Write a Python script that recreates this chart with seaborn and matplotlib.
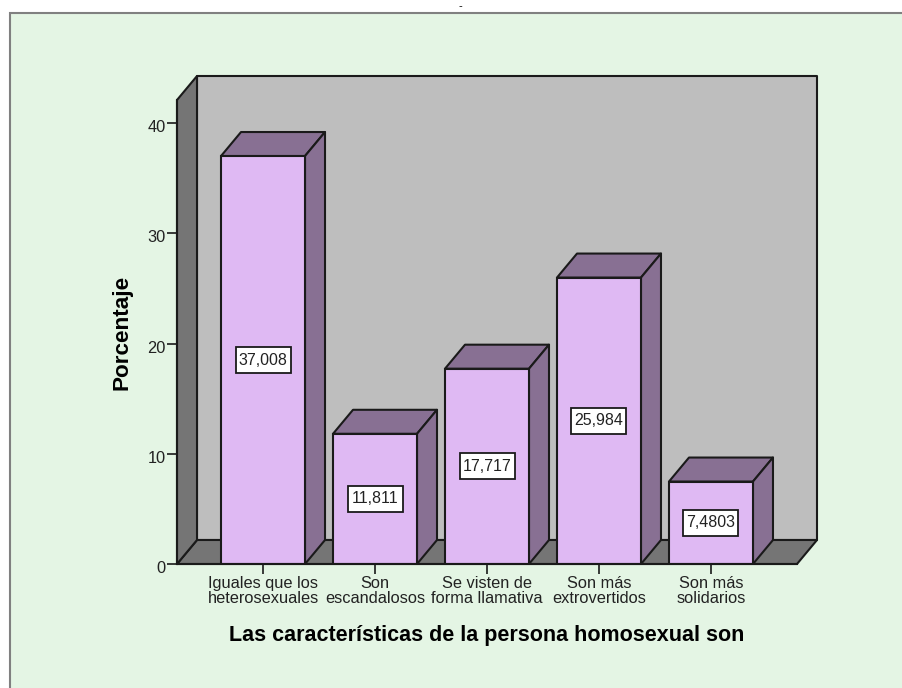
import matplotlib
matplotlib.use("Agg")
import matplotlib.pyplot as plt
import matplotlib.transforms as mtrans
import seaborn as sns
import pandas as pd
from matplotlib.patches import Polygon, Rectangle

categories = ["Iguales que los\nheterosexuales", "Son\nescandalosos", "Se visten de\nforma llamativa",
              "Son más\nextrovertidos", "Son más\nsolidarios"]
values = [37.008, 11.811, 17.717, 25.984, 7.4803]
value_labels = ["37,008", "11,811", "17,717", "25,984", "7,4803"]
y_ticks = [0, 10, 20, 30, 40]
x_title = "Las características de la persona homosexual son"
y_title = "Porcentaje"

W, H = 902, 688
FRONT = "#DFB9F3"
SIDE = "#887093"
WALL = "#BEBEBE"
FLOOR = "#757575"
BG = "#E4F5E4"
INK = "#1A1A1A"
TXT = "#222222"
LW = 1.5

sns.set_theme(style="white")
plt.rcParams["font.family"] = ["Liberation Sans", "DejaVu Sans"]

fig = plt.figure(figsize=(W / 100, H / 100), dpi=100, facecolor="white")
fig.add_artist(Rectangle((10 / W, -0.01), 1, 1 - 13 / H + 0.01, transform=fig.transFigure,
                         facecolor=BG, edgecolor="#808080", linewidth=1.5, zorder=-5))
fig.text(460 / W, 1 - 6 / H, "-", ha="center", va="center", fontsize=8, color="black")

ax = fig.add_axes([177 / W, 1 - 564 / H, 620 / W, 464 / H])
ax.patch.set_alpha(0)

df = pd.DataFrame({"cat": categories, "val": values})
sns.barplot(data=df, x="cat", y="val", color=FRONT, saturation=1, width=0.75,
            edgecolor=INK, linewidth=LW, ax=ax, zorder=3)

xmin, xmax = -0.768, 4.768
ymin, ymax = 0, 42.09
ax.set_xlim(xmin, xmax)
ax.set_ylim(ymin, ymax)

# pixel-to-data conversion factors for the pseudo-3D depth and the label boxes
ux = (xmax - xmin) / 620
uy = (ymax - ymin) / 464
dx = 20 * ux
dy = 24 * uy


def face(points, color, z):
    ax.add_patch(Polygon(points, closed=True, facecolor=color, edgecolor=INK, linewidth=LW,
                         clip_on=False, zorder=z, joinstyle="round"))


bars = [p for p in ax.patches if isinstance(p, Rectangle)]

face([(xmin + dx, dy), (xmax + dx, dy), (xmax + dx, ymax + dy), (xmin + dx, ymax + dy)], WALL, 0.5)
face([(xmin, 0), (xmax, 0), (xmax + dx, dy), (xmin + dx, dy)], FLOOR, 0.6)
face([(xmin, 0), (xmin + dx, dy), (xmin + dx, ymax + dy), (xmin, ymax)], FLOOR, 0.6)

for bar, lab in zip(bars, value_labels):
    x0, x1, h = bar.get_x(), bar.get_x() + bar.get_width(), bar.get_height()
    face([(x0, h), (x1, h), (x1 + dx, h + dy), (x0 + dx, h + dy)], SIDE, 2)
    face([(x1, 0), (x1 + dx, dy), (x1 + dx, h + dy), (x1, h)], SIDE, 2)
    xc = (x0 + x1) / 2
    yc = h / 2
    bw, bh = 55 * ux, 26 * uy
    ax.add_patch(Rectangle((xc - bw / 2, yc - bh / 2), bw, bh, facecolor="white", edgecolor=INK,
                           linewidth=1.3, zorder=4.5))
    ax.text(xc, yc, lab, ha="center", va="center", fontsize=11.5, color=TXT, zorder=5)

sns.despine(ax=ax, top=True, right=True)
for s in ("left", "bottom"):
    ax.spines[s].set_color(INK)
    ax.spines[s].set_linewidth(LW)
    ax.spines[s].set_zorder(4)

ax.set_yticks(y_ticks)
ax.tick_params(axis="both", which="major", direction="out", length=7.2, width=1.2, color=INK,
               bottom=True, left=True, labelsize=11.8, labelcolor=TXT)
ax.tick_params(axis="x", pad=1.5)
ax.tick_params(axis="y", pad=1)
for t in ax.get_xticklabels():
    t.set_linespacing(1.03)
shift = mtrans.ScaledTranslation(0, -3 / 100, fig.dpi_scale_trans)
for t in ax.get_yticklabels():
    t.set_transform(t.get_transform() + shift)

ax.set_xlabel("")
ax.set_ylabel("")
fig.text(487 / W, 1 - 636 / H, x_title, ha="center", va="center", fontsize=15.5, fontweight="bold", color="black")
fig.text(122 / W, 1 - 332 / H, y_title, ha="center", va="center", rotation=90, fontsize=16.2,
         fontweight="bold", color="black")

fig.savefig("out.png", dpi=100, facecolor="white")
